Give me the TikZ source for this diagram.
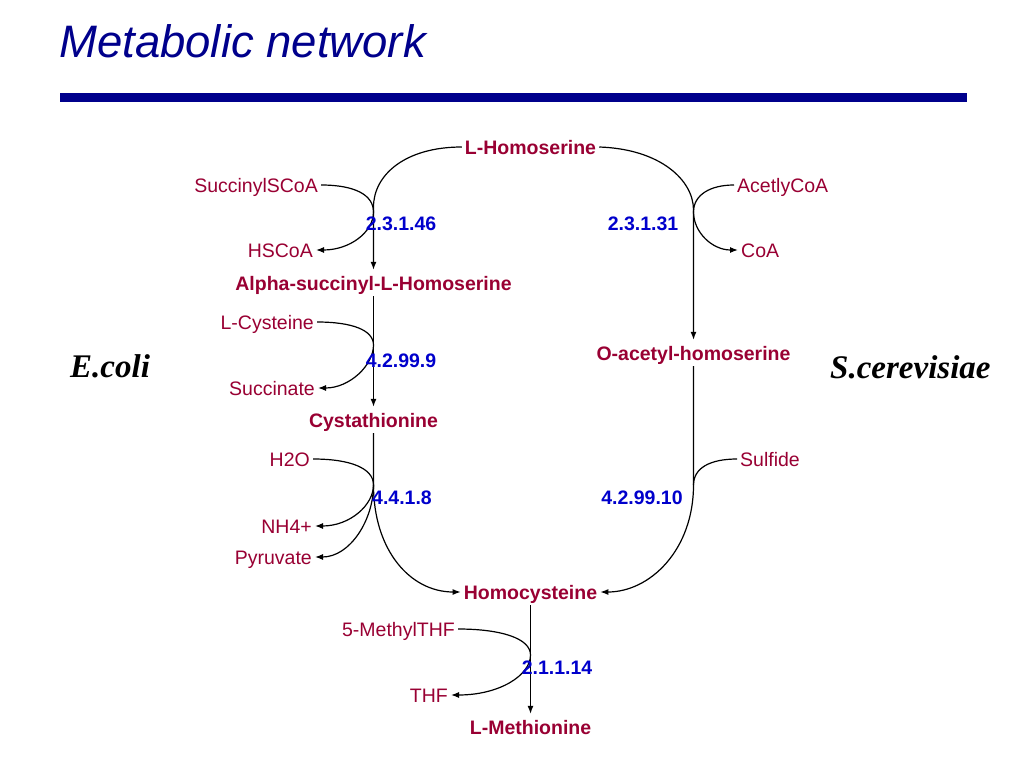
\documentclass[tikz,border=0pt]{standalone}
\usepackage{fontspec}
\setmainfont{Liberation Sans}
\newfontfamily\tmsfont{Liberation Serif}
\usetikzlibrary{arrows.meta}
\definecolor{metred}{RGB}{153,0,51}
\definecolor{ecblue}{RGB}{0,0,204}
\definecolor{titlenavy}{RGB}{0,0,140}
\begin{document}
\begin{tikzpicture}[x=1pt,y=-1pt,
  met/.style={font=\fontsize{19.5}{22}\selectfont, text=metred, text height=14pt, text depth=0pt, inner xsep=3pt, inner ysep=6pt},
  keymet/.style={met, font=\bfseries\fontsize{19.5}{22}\selectfont},
  ec/.style={met, text=ecblue, font=\bfseries\fontsize{19.5}{22}\selectfont},
  org/.style={font=\tmsfont\bfseries\itshape\fontsize{33}{38}\selectfont, inner sep=0pt, anchor=base west},
  link/.style={line width=1.2pt},
  flow/.style={line width=1.2pt, -{Latex[length=8pt,width=6pt]}}]
\useasboundingbox (0,0) rectangle (1024,768);
\fill[white] (0,0) rectangle (1024,768);

% title
\node[anchor=base west, inner sep=0pt, text=titlenavy, font=\itshape\fontsize{45.5}{50}\selectfont] (title) at (59,57) {Metabolic network};
\fill[titlenavy] (60,93) rectangle (967,102);

% organisms
\node[org] (ecoli) at (70,377) {E.coli};
\node[org] (scer) at (830,378) {S.cerevisiae};

% main metabolites
\node[keymet] (lhom) at (530.5,147) {L-Homoserine};
\node[keymet] (asuc) at (373.5,283) {Alpha-succinyl-L-Homoserine};
\node[keymet] (cyst) at (373.5,420) {Cystathionine};
\node[keymet] (hcys) at (530.5,592) {Homocysteine};
\node[keymet] (lmet) at (530.5,727) {L-Methionine};
\node[keymet] (oah) at (693.5,353) {O-acetyl-homoserine};

% side metabolites
\node[met, anchor=east] (succ) at (321,185) {SuccinylSCoA};
\node[met, anchor=east] (hscoa) at (316,250) {HSCoA};
\node[met, anchor=east] (lcys) at (317,322) {L-Cysteine};
\node[met, anchor=east] (succin) at (318,388) {Succinate};
\node[met, anchor=east] (h2o) at (313,459) {H2O};
\node[met, anchor=east] (nh4) at (315,526) {NH4+};
\node[met, anchor=east] (pyr) at (315,557) {Pyruvate};
\node[met, anchor=east] (mthf) at (458,629) {5-MethylTHF};
\node[met, anchor=east] (thf) at (451,695) {THF};
\node[met, anchor=west] (acoa) at (734,185) {AcetlyCoA};
\node[met, anchor=west] (coa) at (738,250) {CoA};
\node[met, anchor=west] (sulf) at (737,459) {Sulfide};

% junction points
\coordinate (j0) at (373.5,207);
\coordinate (j1) at (373.5,212);
\coordinate (j2) at (373.5,345);
\coordinate (j3) at (373.5,485);
\coordinate (j4) at (693.5,210);
\coordinate (j5) at (693.5,212);
\coordinate (j6) at (693.5,485);
\coordinate (j7) at (530.5,655);

% E. coli branch
\draw[flow] (lhom.west) .. controls (405,147) and (373.5,175) .. (j0) -- (asuc.north);
\draw[link] (succ.east) .. controls (355,185) and (373.5,195) .. (j1);
\draw[flow] (j1) .. controls (373.5,232) and (350,250) .. (hscoa.east);

\draw[flow] (asuc.south) -- (cyst.north);
\draw[link] (lcys.east) .. controls (352,322) and (373.5,330) .. (j2);
\draw[flow] (j2) .. controls (373.5,365) and (350,388) .. (succin.east);

\draw[flow] (cyst.south) -- (j3) .. controls (373.5,550) and (410,592) .. (hcys.west);
\draw[link] (h2o.east) .. controls (350,459) and (373.5,468) .. (j3);
\draw[flow] (j3) .. controls (373.5,505) and (350,526) .. (nh4.east);
\draw[flow] (j3) .. controls (373.5,520) and (350,557) .. (pyr.east);

% S. cerevisiae branch
\draw[flow] (lhom.east) .. controls (660,149) and (693.5,180) .. (j4) -- (oah.north);
\draw[link] (acoa.west) .. controls (710,185) and (693.5,195) .. (j5);
\draw[flow] (j5) .. controls (693.5,232) and (712,250) .. (coa.west);

\draw[flow] (oah.south) -- (j6) .. controls (693.5,550) and (650,592) .. (hcys.east);
\draw[link] (sulf.west) .. controls (710,459) and (693.5,468) .. (j6);

% final step
\draw[flow] (hcys.south) -- (lmet.north);
\draw[link] (mthf.east) .. controls (500,629) and (530.5,638) .. (j7);
\draw[flow] (j7) .. controls (530.5,675) and (500,695) .. (thf.east);

% enzyme labels
\node[ec] (ec1) at (401,223) {2.3.1.46};
\node[ec] (ec2) at (401,360) {4.2.99.9};
\node[ec] (ec3) at (402,497) {4.4.1.8};
\node[ec] (ec4) at (557,667) {2.1.1.14};
\node[ec] (ec5) at (643,223) {2.3.1.31};
\node[ec] (ec6) at (642,497) {4.2.99.10};
\end{tikzpicture}
\end{document}
